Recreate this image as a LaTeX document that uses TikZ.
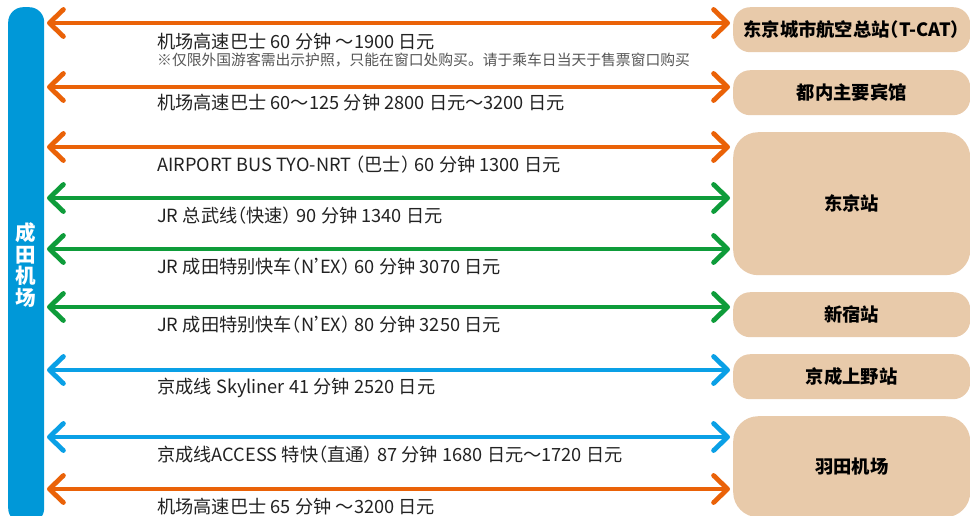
\documentclass[tikz,border=0pt]{standalone}
\usepackage{fontspec}
\setmainfont{Noto Sans CJK SC}
\usetikzlibrary{arrows.meta}
\definecolor{cOrange}{RGB}{234,98,8}
\definecolor{cGreen}{RGB}{14,156,58}
\definecolor{cBlue}{RGB}{10,160,230}
\definecolor{cBar}{RGB}{0,152,216}
\definecolor{cBox}{RGB}{232,202,170}
\definecolor{cText}{RGB}{34,34,34}
\definecolor{cNote}{RGB}{85,85,85}
\newcommand\jgap{\hspace{0.24em}}
\newcommand\hp[1]{{\addfontfeatures{RawFeature=+halt}#1}}
\newcommand\apos{\hspace{0.02em}\hp{’}\hspace{-0.2em}}
\tikzset{
  conn/.style={line width=4.8pt, {Straight Barb[length=14pt,width=27pt,round]}-{Straight Barb[length=14pt,width=27pt,round]}},
  oconn/.style={conn, draw=cOrange},
  gconn/.style={conn, draw=cGreen},
  bconn/.style={conn, draw=cBlue},
  lbl/.style={anchor=west, inner sep=0pt, text=cText, font=\fontsize{18.2}{20}\selectfont},
  note/.style={anchor=west, inner sep=0pt, text=cNote, font=\fontsize{14.8}{16}\selectfont},
  dest/.style={anchor=north west, fill=cBox, rounded corners=17pt, minimum width=237pt, inner sep=0pt,
    font=\fontsize{18.3}{20}\selectfont\bfseries, text=black},
}
\begin{document}
\begin{tikzpicture}[x=1pt,y=-1pt]
\clip (0,0) rectangle (970,515);
\fill[white] (0,0) rectangle (970,515);
% left bar
\node[anchor=north west, fill=cBar, rounded corners=15pt, minimum width=36pt, minimum height=516pt,
  inner sep=0pt, text=white, align=center, font=\fontsize{20.5}{21.5}\selectfont\bfseries] (bar) at (8,7) {成\\田\\机\\场};
% destination boxes
\node[dest, minimum height=45pt] (tcat) at (733,7) {东京城市航空总站\hp{（}T-CAT\hp{）}};
\node[dest, minimum height=45pt] (hotel) at (733,70) {都内主要宾馆};
\node[dest, minimum height=143pt, rounded corners=25pt] (tokyo) at (733,132) {东京站};
\node[dest, minimum height=45pt] (shinjuku) at (733,292) {新宿站};
\node[dest, minimum height=45pt] (ueno) at (733,354) {京成上野站};
\node[dest, minimum height=101pt, rounded corners=25pt] (haneda) at (733,416) {羽田机场};
% connector end points
\foreach \n/\y in {1/23,2/87,3/147,4/198,5/249,6/307,7/370,8/437,9/489}{
  \coordinate (L\n) at (47,\y);
  \coordinate (R\n) at (730,\y);
}
\draw[oconn] (L1) -- (R1);
\draw[oconn] (L2) -- (R2);
\draw[oconn] (L3) -- (R3);
\draw[gconn] (L4) -- (R4);
\draw[gconn] (L5) -- (R5);
\draw[gconn] (L6) -- (R6);
\draw[bconn] (L7) -- (R7);
\draw[bconn] (L8) -- (R8);
\draw[oconn] (L9) -- (R9);
% labels
\node[lbl] (t1) at (157,42) {机场高速巴士\jgap{}60\jgap{}分钟 ～1900\jgap{}日元};
\node[note] (n1) at (157,60) {※仅限外国游客需出示护照，只能在窗口处购买。请于乘车日当天于售票窗口购买};
\node[lbl] (t2) at (157,103) {机场高速巴士\jgap{}60～125\jgap{}分钟 2800\jgap{}日元～3200\jgap{}日元};
\node[lbl] (t3) at (157,165) {AIRPORT BUS TYO-NRT \hp{（}巴士\hp{）}\jgap{}60\jgap{}分钟 1300\jgap{}日元};
\node[lbl] (t4) at (157,216) {JR\jgap{}总武线\hp{（}快速\hp{）}\jgap{}90\jgap{}分钟 1340\jgap{}日元};
\node[lbl] (t5) at (157,267) {JR\jgap{}成田特别快车\hp{（}N\apos{}EX\hp{）}\jgap{}60\jgap{}分钟 3070\jgap{}日元};
\node[lbl] (t6) at (157,325) {JR\jgap{}成田特别快车\hp{（}N\apos{}EX\hp{）}\jgap{}80\jgap{}分钟 3250\jgap{}日元};
\node[lbl] (t7) at (157,388) {京成线\jgap{}Skyliner 41\jgap{}分钟 2520\jgap{}日元};
\node[lbl] (t8) at (157,455) {京成线ACCESS\jgap{}特快\hp{（}直通\hp{）}\jgap{}87\jgap{}分钟 1680\jgap{}日元～1720\jgap{}日元};
\node[lbl] (t9) at (157,507) {机场高速巴士\jgap{}65\jgap{}分钟 ～3200\jgap{}日元};
\end{tikzpicture}
\end{document}
